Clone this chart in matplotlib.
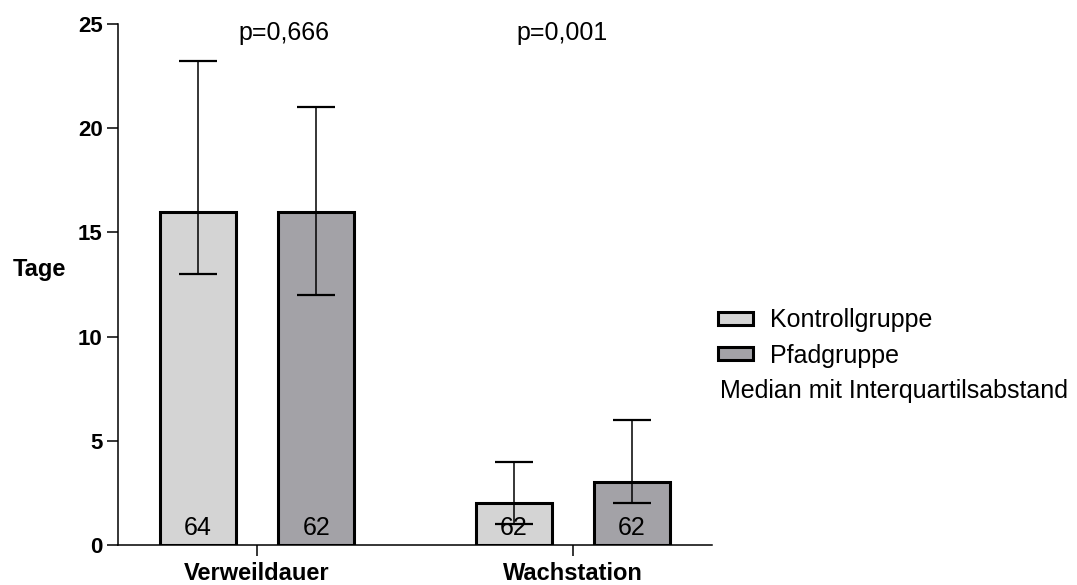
import numpy as np
import matplotlib.pyplot as plt
from matplotlib.patches import Patch

plt.rcParams['font.family'] = ['Liberation Sans', 'DejaVu Sans']

# Median mit Interquartilsabstand (Tage)
kategorien = ['Verweildauer', 'Wachstation']
gruppen = ['Kontrollgruppe', 'Pfadgruppe']
median_kontroll = [16, 2]
median_pfad = [16, 3]
q1_kontroll = [13, 1]
q3_kontroll = [23.2, 4]
q1_pfad = [12, 2]
q3_pfad = [21, 6]
n_kontroll = [64, 62]
n_pfad = [62, 62]
p_werte = ['p=0,666', 'p=0,001']

farben = ['#d4d4d4', '#a3a2a7']

fig = plt.figure(figsize=(10.77, 5.85), dpi=100)
ax = fig.add_axes([0.1096, 0.0684, 0.5515, 0.8906])

x = np.arange(len(kategorien))
off = 0.187
breite = 0.24

for dx, med, q1, q3, n, farbe in [(-off, median_kontroll, q1_kontroll, q3_kontroll, n_kontroll, farben[0]),
                                   (off, median_pfad, q1_pfad, q3_pfad, n_pfad, farben[1])]:
    pos = x + dx
    ax.bar(pos, med, width=breite, color=farbe, edgecolor='black', linewidth=2.2, zorder=2)
    med = np.array(med)
    err = [med - np.array(q1), np.array(q3) - med]
    ax.errorbar(pos, med, yerr=err, fmt='none', ecolor='black', elinewidth=1.1,
                capsize=14, capthick=1.6, zorder=3)
    # Fallzahlen unten im Balken
    for xi, ni in zip(pos, n):
        ax.text(xi, 0.8, str(ni), ha='center', va='center', fontsize=18, zorder=4)

# p-Werte über den Gruppen
p_x = [0.085, 0.965]
for xi, p in zip(p_x, p_werte):
    ax.text(xi, 24.55, p, ha='center', va='center', fontsize=18)

ax.set_xlim(-0.44, 1.44)
ax.set_ylim(0, 25)
ax.set_yticks([0, 5, 10, 15, 20, 25])
ax.set_xticks(x)
ax.set_xticklabels(kategorien, fontsize=17, fontweight='bold')
for lbl in ax.get_yticklabels():
    lbl.set_fontsize(16)
    lbl.set_fontweight('bold')

ax.set_ylabel('Tage', fontsize=17, fontweight='bold', rotation=0, va='center', ha='center')
ax.yaxis.set_label_coords(-0.133, 0.528)

ax.spines['top'].set_visible(False)
ax.spines['right'].set_visible(False)
ax.spines['left'].set_linewidth(1.1)
ax.spines['bottom'].set_linewidth(1.1)
ax.tick_params(axis='y', width=1.1, length=8, pad=3)
ax.tick_params(axis='x', width=1.1, length=8, pad=4.5)

handles = [Patch(facecolor=farben[0], edgecolor='black', linewidth=2.2),
           Patch(facecolor=farben[1], edgecolor='black', linewidth=2.2)]
fig.legend(handles, gruppen, loc='center left', bbox_to_anchor=(718 / 1077, 1 - 338 / 585),
           frameon=False, fontsize=18, borderpad=0, borderaxespad=0,
           handlelength=1.4, handleheight=0.4, handletextpad=0.68, labelspacing=0.45)
fig.text(720 / 1077, 1 - 391 / 585, 'Median mit Interquartilsabstand', fontsize=18, va='center')

fig.savefig('out.png', dpi=100)
